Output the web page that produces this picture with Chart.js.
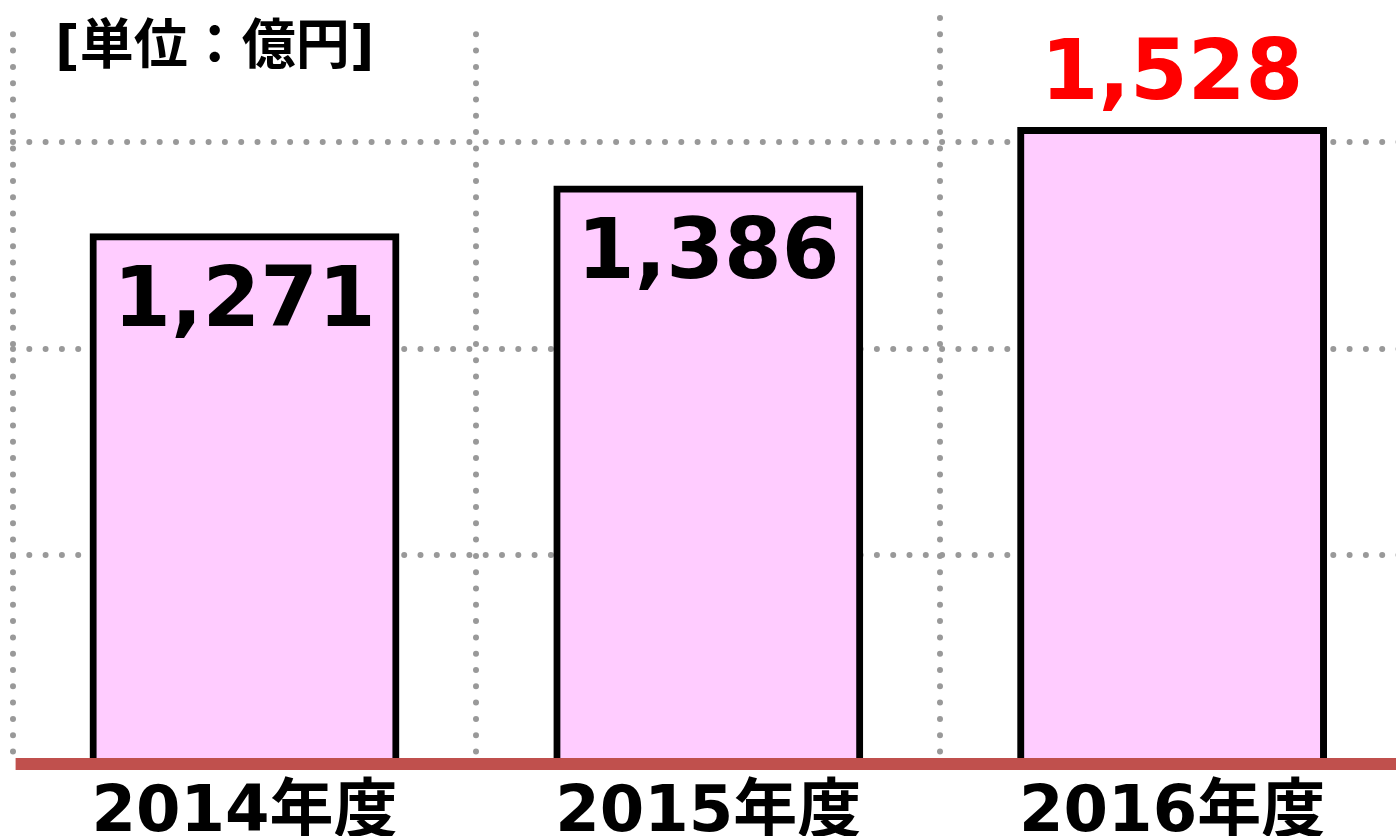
<!DOCTYPE html>
<html>
<head>
<meta charset="utf-8">
<script src="https://cdn.jsdelivr.net/npm/chart.js@4"></script>
<style>
  html, body { margin: 0; padding: 0; background: #fff; overflow: hidden; }
  .chartContainer { width: 1396px; height: 836px; overflow: hidden; }
  #chart { display: block; }
</style>
</head>
<body>
<div class="chartContainer">
  <canvas id="chart" width="1406" height="836"></canvas>
</div>
<script>
const categories = ['2014年度', '2015年度', '2016年度'];
const sales = [1271, 1386, 1528];
const yTicks = [0, 500, 1000, 1500, 1800];
const labelColors = ['#000000', '#000000', '#FF0000'];
const labelInside = [true, true, false];
const unitLabel = '[単位：億円]';

const FONT = "'DejaVu Sans', 'Noto Sans CJK JP', sans-serif";

// draws the unit text, the red base line and the value labels
const decorations = {
    id: 'decorations',
    beforeDraw(chart) {
        chart.ctx.lineCap = 'round'; // makes the dashed grid into dots
    },
    afterDatasetsDraw(chart) {
        const ctx = chart.ctx;
        const area = chart.chartArea;
        ctx.save();
        ctx.lineCap = 'butt';
        ctx.setLineDash([]);
        ctx.strokeStyle = '#C0504D';
        ctx.lineWidth = 12;
        ctx.beginPath();
        ctx.moveTo(area.left + 3, area.bottom + 2);
        ctx.lineTo(area.right, area.bottom + 2);
        ctx.stroke();

        const meta = chart.getDatasetMeta(0);
        ctx.font = 'bold 83px ' + FONT;
        ctx.textAlign = 'center';
        ctx.textBaseline = 'alphabetic';
        meta.data.forEach((bar, i) => {
            ctx.fillStyle = labelColors[i];
            const y = labelInside[i] ? bar.y + 89 : bar.y - 31;
            ctx.fillText(sales[i].toLocaleString('en-US'), bar.x, y);
        });

        ctx.fillStyle = '#fff';
        ctx.fillRect(0, 0, 520, 28);
        ctx.fillStyle = '#000';
        ctx.font = 'bold 54px ' + FONT;
        ctx.textAlign = 'left';
        ctx.textBaseline = 'middle';
        ctx.fillText(unitLabel, 55, 50);
        ctx.restore();
    }
};

new Chart(document.getElementById('chart'), {
    type: 'bar',
    data: {
        labels: categories,
        datasets: [{
            data: sales,
            backgroundColor: '#FFCCFF',
            borderColor: '#000000',
            borderWidth: 7,
            inflateAmount: 3.5,
            categoryPercentage: 1,
            barPercentage: 0.653
        }]
    },
    options: {
        responsive: false,
        animation: false,
        layout: {padding: {left: 12.6, right: 2, top: 18, bottom: 0}},
        plugins: {legend: {display: false}, tooltip: {enabled: false}},
        scales: {
            x: {
                grid: {color: '#999999', lineWidth: 6, drawTicks: false, offset: true},
                border: {display: false, dash: [0, 16.3]},
                ticks: {
                    color: '#000',
                    padding: 14,
                    font: {family: FONT, size: 64, weight: 'bold'}
                },
                afterFit(scale) { scale.height = 74; }
            },
            y: {
                min: 0,
                max: 1800,
                ticks: {display: false},
                afterBuildTicks(scale) {
                    scale.ticks = yTicks.map(v => ({value: v}));
                },
                grid: {
                    lineWidth: 6,
                    drawTicks: false,
                    color: c => (c.tick.value === 0 || c.tick.value === 1800) ? 'rgba(0,0,0,0)' : '#999999'
                },
                border: {display: false, dash: [0, 16.3]},
                afterFit(scale) { scale.width = 0; }
            }
        }
    },
    plugins: [decorations]
});
</script>
</body>
</html>
